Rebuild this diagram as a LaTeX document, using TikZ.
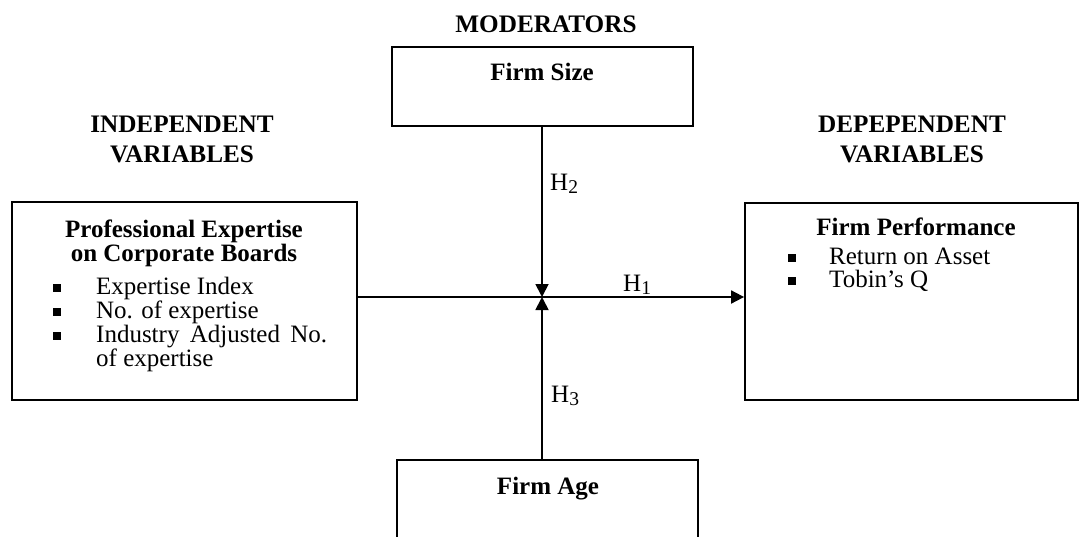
\documentclass[tikz,border=0pt]{standalone}
\usepackage{fontspec}
\setmainfont{Liberation Serif}
\usetikzlibrary{arrows.meta}
\newcommand{\sqbul}[1]{\makebox[#1][l]{\raisebox{2pt}{\rule{8pt}{8pt}}}}
\newcommand{\hyp}[1]{H\raisebox{-3.5pt}{\fontsize{19.5}{19.5}\selectfont #1}}

\begin{document}
\begin{tikzpicture}[
    x=1pt, y=-1pt,
    >={Triangle[length=13pt,width=13pt]},
    varbox/.style={draw, line width=1.8pt, rectangle, inner sep=0pt},
    heading/.style={font=\fontsize{25.2}{30}\selectfont\bfseries, inner sep=0pt},
    title/.style={font=\fontsize{25}{24}\selectfont\bfseries, inner sep=0pt},
    body/.style={font=\fontsize{25}{24.2}\selectfont, inner sep=0pt},
    wire/.style={line width=1.8pt, ->}
]
  \useasboundingbox (0,0) rectangle (1080,536);
  \clip (0,0) rectangle (1080,536);

  % Boxes
  \node[varbox, minimum width=345pt, minimum height=198pt] (indep) at (184.5,301) {};
  \node[varbox, minimum width=333pt, minimum height=197pt] (dep) at (911.5,301.5) {};
  \node[varbox, minimum width=301pt, minimum height=79pt] (size) at (542.5,86.5) {};
  \node[varbox, minimum width=301pt, minimum height=90pt] (age) at (547.5,505) {};

  % Headings
  \node[heading, anchor=base] (modlbl) at (546,32) {MODERATORS};
  \node[heading, anchor=base] (indlbl) at (182,132) {\parbox[t]{300pt}{\centering INDEPENDENT\\VARIABLES}};
  \node[heading, anchor=base] (deplbl) at (912,132) {\parbox[t]{300pt}{\centering DEPEPENDENT\\VARIABLES}};

  % Box contents
  \node[title, anchor=base] (sizettl) at (542,80) {Firm Size};
  \node[title, anchor=base] (agettl) at (548,494) {Firm Age};
  \node[title, anchor=base] (indttl) at (184,237) {\parbox[t]{300pt}{\centering Professional Expertise\\on Corporate Boards}};
  \node[title, anchor=base] (depttl) at (916,235) {Firm Performance};
  \node[body, anchor=base west] (indlist) at (53,294) {\parbox[t]{290pt}{%
    \sqbul{43pt}Expertise Index\\
    \sqbul{43pt}No. of expertise\\
    \sqbul{43pt}\makebox[231pt][s]{Industry Adjusted No.}\\
    \hspace*{43pt}of expertise}};
  \node[body, anchor=base west] (deplist) at (788,264) {\parbox[t]{250pt}{%
    \sqbul{41pt}Return on Asset\\[-1.2pt]
    \sqbul{41pt}Tobin's Q}};

  % Hypotheses
  \coordinate (jn) at (542,297);
  \node[body, anchor=base west] (h1) at (623,291) {\hyp{1}};
  \node[body, anchor=base west] (h2) at (550,190) {\hyp{2}};
  \node[body, anchor=base west] (h3) at (551,402) {\hyp{3}};

  \draw[wire] (indep.east |- jn) -- (dep.west |- jn);
  \draw[wire] (size.south -| jn) -- (jn);
  \draw[wire] (age.north -| jn) -- (jn);
\end{tikzpicture}
\end{document}
